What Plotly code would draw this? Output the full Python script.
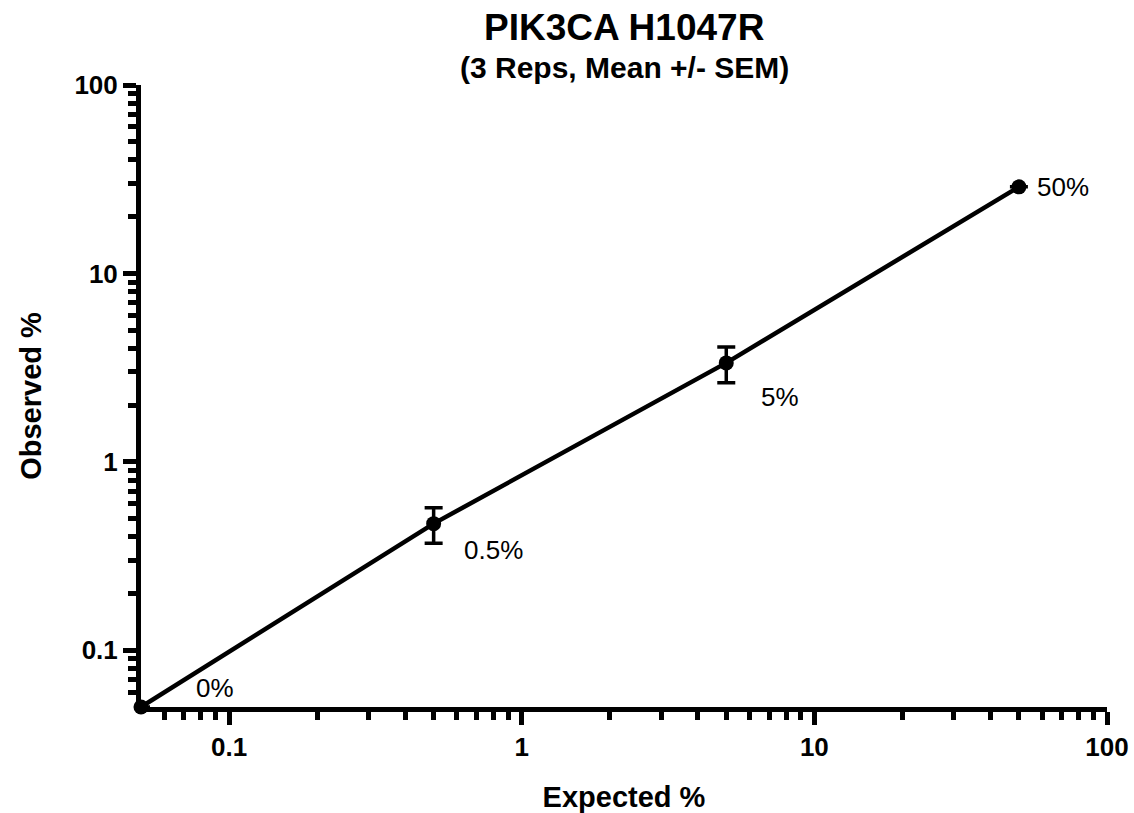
import plotly.graph_objects as go
import numpy as np

expected = [0.05, 0.5, 5, 50]
observed = [0.05, 0.47, 3.35, 28.8]
sem = [0, 0.10, 0.72, 0]
point_labels = ["0%", "0.5%", "5%", "50%"]
label_xshift = [53, 28, 33, 16]
label_yshift = [19, -26, -34, 0]

major_vals = [0.1, 1, 10, 100]
major_text = ["0.1", "1", "10", "100"]
minor_vals = [0.06, 0.07, 0.08, 0.09] + [d * m for d in [0.1, 1, 10] for m in range(2, 10)]

FONT = "Liberation Sans, Arial, sans-serif"

fig = go.Figure()
fig.add_trace(go.Scatter(
    x=expected, y=observed, mode="lines+markers",
    line=dict(color="black", width=4.5),
    marker=dict(color="black", size=15),
    error_y=dict(type="data", array=sem, color="black", thickness=3.5, width=9, visible=True),
    showlegend=False, cliponaxis=False,
))

for x, y, t, dx, dy in zip(expected, observed, point_labels, label_xshift, label_yshift):
    fig.add_annotation(x=np.log10(x), y=np.log10(y), text=t, showarrow=False,
                       xanchor="left", yanchor="middle", xshift=dx, yshift=dy,
                       font=dict(family=FONT, size=26, color="black"))

axis_common = dict(
    type="log", range=[np.log10(0.05), 2], automargin=False,
    showline=True, linewidth=5, linecolor="black",
    ticks="outside", ticklen=13, tickwidth=5, tickcolor="black",
    tickvals=major_vals, ticktext=["<b>%s</b>" % t for t in major_text],
    tickfont=dict(family=FONT, size=26, color="black"),
    showgrid=False, zeroline=False,
    minor=dict(tickvals=minor_vals, ticks="outside", ticklen=8, tickwidth=4.5,
               tickcolor="black", showgrid=False),
)

fig.update_layout(
    width=1134, height=813,
    margin=dict(l=141, r=27, t=85, b=106),
    paper_bgcolor="white", plot_bgcolor="white",
    xaxis=dict(**axis_common, title=dict(text="<b>Expected %</b>", standoff=32,
               font=dict(family=FONT, size=29, color="black"))),
    yaxis=dict(**axis_common, title=dict(text="<b>Observed %</b>", standoff=26,
               font=dict(family=FONT, size=29, color="black"))),
)

fig.add_annotation(xref="paper", yref="paper", x=0.5, y=(707 - 27) / 622, text="<b>PIK3CA H1047R</b>",
                   showarrow=False, xanchor="center", yanchor="middle",
                   font=dict(family=FONT, size=37, color="black"))
fig.add_annotation(xref="paper", yref="paper", x=0.5, y=(707 - 67) / 622, text="<b>(3 Reps, Mean +/- SEM)</b>",
                   showarrow=False, xanchor="center", yanchor="middle",
                   font=dict(family=FONT, size=30, color="black"))

fig.write_html("out.html")
